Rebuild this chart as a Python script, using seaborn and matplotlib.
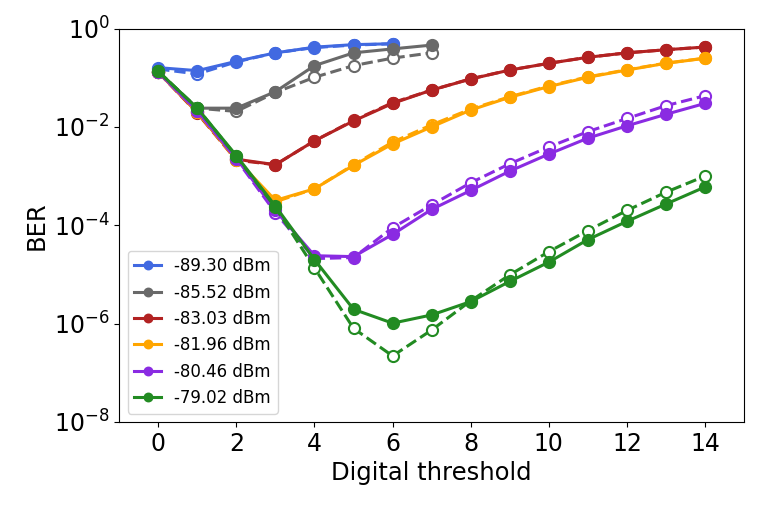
import numpy as np
import pandas as pd
import seaborn as sns
import matplotlib
matplotlib.use("Agg")
import matplotlib.pyplot as plt
from matplotlib.ticker import NullLocator

# Empfangsleistungen und Farben
labels = ["-89.30 dBm", "-85.52 dBm", "-83.03 dBm", "-81.96 dBm", "-80.46 dBm", "-79.02 dBm"]
colors = ["royalblue", "dimgray", "firebrick", "orange", "blueviolet", "forestgreen"]

# BER ueber digitaler Schwelle (durchgezogen = gemessen, gestrichelt = zweite Kurve)
ber_solid = [
    [0.16, 0.139, 0.215, 0.32, 0.417, 0.47, 0.49],
    [0.13, 0.024, 0.024, 0.052, 0.176, 0.32, 0.385, 0.46],
    [0.13, 0.0196, 0.0022, 0.0017, 0.0052, 0.0132, 0.030, 0.056, 0.094, 0.143, 0.196, 0.26, 0.32, 0.37, 0.42],
    [0.13, 0.02, 0.0022, 0.00032, 0.00055, 0.00165, 0.0045, 0.010, 0.022, 0.040, 0.066, 0.102, 0.143, 0.196, 0.248],
    [0.13, 0.021, 0.0023, 0.0002, 2.4e-5, 2.3e-5, 6.5e-5, 0.00021, 0.00051, 0.00126, 0.0028, 0.0059, 0.0105, 0.018, 0.030],
    [0.135, 0.024, 0.0026, 0.000245, 2.0e-5, 1.95e-6, 1.02e-6, 1.5e-6, 2.8e-6, 7.2e-6, 1.78e-5, 5.1e-5, 0.00012, 0.00027, 0.0006],
]
ber_dashed = [
    [0.15, 0.119, 0.21, 0.32, 0.41, 0.46, 0.49],
    [0.13, 0.024, 0.0206, 0.05, 0.102, 0.176, 0.25, 0.32],
    [0.13, 0.019, 0.0021, 0.0017, 0.0052, 0.0135, 0.031, 0.056, 0.095, 0.143, 0.196, 0.26, 0.32, 0.37, 0.42],
    [0.13, 0.02, 0.0021, 0.00030, 0.00055, 0.0017, 0.0049, 0.011, 0.023, 0.041, 0.068, 0.104, 0.145, 0.198, 0.25],
    [0.13, 0.021, 0.0022, 0.00018, 2.1e-5, 2.2e-5, 8.9e-5, 0.00026, 0.00073, 0.00178, 0.0039, 0.0080, 0.0148, 0.027, 0.043],
    [0.135, 0.024, 0.0025, 0.00023, 1.35e-5, 8.0e-7, 2.2e-7, 7.4e-7, 2.9e-6, 9.8e-6, 2.9e-5, 7.8e-5, 0.0002, 0.00047, 0.001],
]

fig = plt.figure(figsize=(7.64, 5.09), dpi=100)
ax = fig.add_axes([0.156, 0.171, 0.818, 0.773])

for lab, col, ys, yd in zip(labels, colors, ber_solid, ber_dashed):
    df_s = pd.DataFrame({"threshold": np.arange(len(ys)), "ber": ys})
    df_d = pd.DataFrame({"threshold": np.arange(len(yd)), "ber": yd})
    # gestrichelte Kurve zuerst, gefuellte Marker liegen oben
    sns.lineplot(data=df_d, x="threshold", y="ber", ax=ax, color=col, lw=2.2,
                 linestyle="--", marker="o", markersize=8, markerfacecolor="white",
                 markeredgecolor=col, markeredgewidth=1.5, label="_nolegend_")
    sns.lineplot(data=df_s, x="threshold", y="ber", ax=ax, color=col, lw=2.2,
                 marker="o", markersize=8, markeredgecolor=col, markeredgewidth=1.5,
                 label=lab)

ax.set_yscale("log")
ax.set_ylim(1e-8, 1)
ax.set_xlim(-1, 15)
ax.set_xticks(range(0, 15, 2))
ax.set_yticks([1e-8, 1e-6, 1e-4, 1e-2, 1])
ax.yaxis.set_minor_locator(NullLocator())
ax.tick_params(labelsize=17)
ax.set_xlabel("Digital threshold", fontsize=17.5)
ax.set_ylabel("BER", fontsize=17.5)
ax.legend(loc="lower left", fontsize=12, markerscale=0.7, handlelength=1.6)

fig.savefig("out.png", dpi=100)
